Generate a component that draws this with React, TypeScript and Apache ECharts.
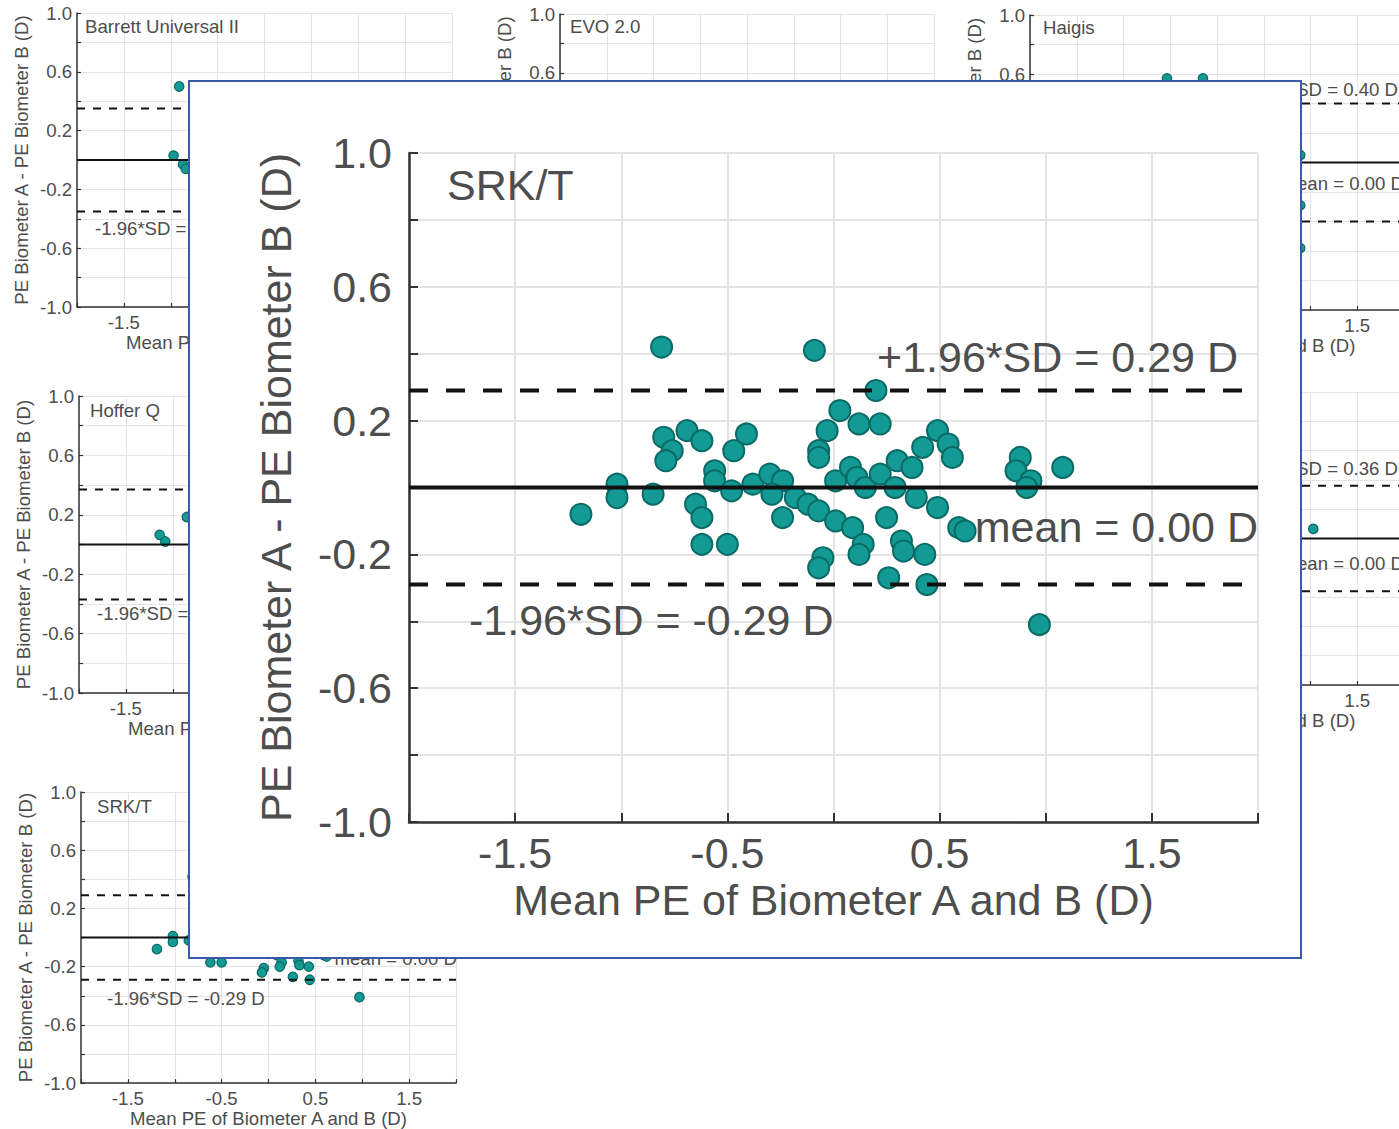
import React, { useEffect, useRef } from 'react';
import * as echarts from 'echarts';

// ---------- data ----------
const X_MIN = -2;
const X_MAX = 2;
const X_STEP = 0.5;
const Y_MIN = -1;
const Y_MAX = 1;
const Y_STEP = 0.2;

const X_NAME = 'Mean PE of Biometer A and B (D)';
const Y_NAME = 'PE Biometer A - PE Biometer B (D)';

const xTickLabels = [-1.5, -0.5, 0.5, 1.5];
const yTickLabels = [-1.0, -0.6, -0.2, 0.2, 0.6, 1.0];

// SRK/T (bottom-left panel and enlarged inset)
const srktMean = [
  -1.19, -1.02, -1.02, -0.85, -0.81, -0.8, -0.76, -0.79, -0.69, -0.62, -0.41, -0.47, -0.56, -0.56,
  -0.65, -0.62, -0.62, -0.5, -0.48, -0.38, -0.09, 0.2, 0.03, 0.12, 0.22, -0.03, -0.07, -0.07,
  -0.3, -0.24, -0.29, -0.18, -0.24, -0.12, -0.07, 0.01, 0.09, 0.14, 0.12, -0.05, -0.07, 0.01,
  0.08, 0.11, 0.15, 0.22, 0.29, 0.3, 0.25, 0.32, 0.33, 0.26, 0.49, 0.54, 0.56, 0.42, 0.37, 0.39,
  0.49, 0.59, 0.62, 0.43, 0.44, 0.88, 0.86, 0.93, 0.91, 1.08, 0.97,
];
const srktDiff = [
  -0.08, 0.01, -0.03, -0.02, 0.42, 0.15, 0.11, 0.08, 0.17, 0.14, 0.16, 0.11, 0.05, 0.02,
  -0.05, -0.09, -0.17, -0.17, -0.01, 0.01, 0.41, 0.29, 0.23, 0.19, 0.19, 0.17, 0.11, 0.09,
  0.04, 0.02, -0.02, -0.03, -0.09, -0.05, -0.07, -0.1, -0.12, -0.17, -0.2, -0.21, -0.24, 0.02,
  0.06, 0.03, 0.0, 0.04, 0.0, 0.08, -0.09, -0.16, -0.19, -0.27, 0.17, 0.13, 0.09, 0.12, 0.06, -0.03,
  -0.06, -0.12, -0.13, -0.2, -0.29, 0.09, 0.05, 0.02, 0.0, 0.06, -0.41,
];

// visible parts of the other panels
const barrettMean = [-0.91, -0.97, -0.87, -0.84];
const barrettDiff = [0.5, 0.03, -0.03, -0.06];
const hofferMean = [-1.14, -1.08, -0.85];
const hofferDiff = [0.065, 0.02, 0.185];
const haigisMean = [-0.535, -0.15, 0.89, 0.89, 0.89];
const haigisDiff = [0.57, 0.57, 0.05, -0.29, -0.58];
const holladayMean = [1.03];
const holladayDiff = [0.065];

const panelTitles = ['Barrett Universal II', 'EVO 2.0', 'Haigis', 'Hoffer Q', '', 'SRK/T'];
const biasValues = [0, null, 0, 0, 0, 0];
const loaValues = [0.35, null, 0.4, 0.37, 0.36, 0.29];

// ---------- styling ----------
const FONT = '"Liberation Sans", Arial, Helvetica, sans-serif';
const TEXT = '#4d4d4d';
const AXIS = '#333333';
const GRIDC = '#e4e4e4';
const DOT = '#139a94';
const DOT_EDGE = '#0a6a65';

type Sty = {
  font: number; tick: number; axisW: number; gridW: number; xLabelMargin: number; yLabelMargin: number;
  xNameGap: number; yNameGap: number; dot: number; dotEdge: number; lineW: number; dash: number[];
};
const small: Sty = { font: 18.6, tick: 4, axisW: 1.5, gridW: 1, xLabelMargin: 6, yLabelMargin: 5, xNameGap: 24, yNameGap: 46, dot: 9.5, dotEdge: 1.2, lineW: 2, dash: [8, 8] };
const big: Sty = { font: 43, tick: 9, axisW: 2.5, gridW: 2, xLabelMargin: 9, yLabelMargin: 17, xNameGap: 36, yNameGap: 112, dot: 21, dotEdge: 2, lineW: 4, dash: [19, 18] };

function makeFmt(shown: number[], scale: number) {
  return (v: number) => {
    const r = Math.round(v * scale);
    return shown.some((s) => Math.round(s * scale) === r) ? (r / scale).toFixed(1) : '';
  };
}

type Panel = {
  rect: { left: number; top: number; width: number; height: number };
  xs: number[]; ys: number[]; bias: number | null; loa: number | null; s: Sty;
  xShow?: number[]; yShow?: number[]; xName?: boolean; yName?: boolean;
};

function buildOption(panels: Panel[], texts: any[]) {
  const grid: any[] = [];
  const xAxis: any[] = [];
  const yAxis: any[] = [];
  const series: any[] = [];
  panels.forEach((p, i) => {
    const s = p.s;
    grid.push({ ...p.rect, containLabel: false });
    const common = {
      type: 'value',
      gridIndex: i,
      axisLine: { show: true, onZero: false, lineStyle: { color: AXIS, width: s.axisW } },
      axisTick: { show: true, inside: true, length: s.tick, lineStyle: { color: AXIS, width: s.axisW * 0.8 } },
      splitLine: { show: true, lineStyle: { color: GRIDC, width: s.gridW } },
      nameLocation: 'middle',
      nameTextStyle: { color: TEXT, fontSize: s.font, fontFamily: FONT },
      silent: true,
    };
    xAxis.push({
      ...common,
      min: X_MIN, max: X_MAX, interval: X_STEP,
      name: p.xName === false ? '' : X_NAME, nameGap: s.xNameGap,
      axisLabel: { formatter: makeFmt(p.xShow ?? xTickLabels, 2), color: TEXT, fontSize: s.font, fontFamily: FONT, margin: s.xLabelMargin },
    });
    yAxis.push({
      ...common,
      min: Y_MIN, max: Y_MAX, interval: Y_STEP,
      name: p.yName === false ? '' : Y_NAME, nameGap: s.yNameGap,
      axisLabel: { formatter: makeFmt(p.yShow ?? yTickLabels, 10), color: TEXT, fontSize: s.font, fontFamily: FONT, margin: s.yLabelMargin },
    });
    series.push({
      type: 'scatter', xAxisIndex: i, yAxisIndex: i,
      data: p.xs.map((x, j) => [x, p.ys[j]]),
      symbolSize: s.dot,
      itemStyle: { color: DOT, borderColor: DOT_EDGE, borderWidth: s.dotEdge, opacity: 1 },
      z: 2, silent: true,
    });
    if (p.bias != null && p.loa != null) {
      const lines = [
        { v: p.bias, type: 'solid' as any },
        { v: p.bias + p.loa, type: s.dash as any },
        { v: p.bias - p.loa, type: s.dash as any },
      ];
      lines.forEach((l) =>
        series.push({
          type: 'line', xAxisIndex: i, yAxisIndex: i,
          data: [[X_MIN, l.v], [X_MAX, l.v]],
          symbol: 'none',
          lineStyle: { color: '#111', width: s.lineW, type: l.type },
          z: 3, silent: true,
        })
      );
    }
  });
  return { animation: false, grid, xAxis, yAxis, series, graphic: texts };
}

function txt(text: string, x: number, y: number, align: string, size: number) {
  return {
    type: 'text', x, y, z: 10, silent: true,
    style: { text, fontSize: size, fontFamily: FONT, fill: TEXT, align, verticalAlign: 'middle' },
  };
}
const up = (v: number) => `+1.96*SD = ${v.toFixed(2)} D`;
const lo = (v: number) => `-1.96*SD = -${v.toFixed(2)} D`;
const mn = (v: number) => `mean = ${v.toFixed(2)} D`;

export default function App() {
  const bgRef = useRef<HTMLDivElement>(null);
  const inRef = useRef<HTMLDivElement>(null);

  useEffect(() => {
    const bg = echarts.init(bgRef.current!, undefined, { renderer: 'svg' });
    const inset = echarts.init(inRef.current!, undefined, { renderer: 'svg' });

    const panels: Panel[] = [
      { rect: { left: 77, top: 13, width: 375, height: 294 }, xs: barrettMean, ys: barrettDiff, bias: biasValues[0], loa: loaValues[0], s: small, xShow: [-1.5] },
      { rect: { left: 560, top: 14, width: 374, height: 294 }, xs: [], ys: [], bias: biasValues[1], loa: loaValues[1], s: small, xShow: [], yShow: [1.0, 0.6], xName: false },
      { rect: { left: 1030, top: 15, width: 374, height: 295 }, xs: haigisMean, ys: haigisDiff, bias: biasValues[2], loa: loaValues[2], s: small, xShow: [1.5], yShow: [1.0, 0.6] },
      { rect: { left: 79, top: 396, width: 375, height: 297 }, xs: hofferMean, ys: hofferDiff, bias: biasValues[3], loa: loaValues[3], s: small, xShow: [-1.5] },
      { rect: { left: 1030, top: 392, width: 374, height: 293 }, xs: holladayMean, ys: holladayDiff, bias: biasValues[4], loa: loaValues[4], s: small, xShow: [1.5], yShow: [], yName: false },
      { rect: { left: 81, top: 792, width: 375, height: 295 }, xs: srktMean, ys: srktDiff, bias: biasValues[5], loa: loaValues[5], s: small },
    ];
    const f = small.font;
    const bgTexts = [
      txt(panelTitles[0], 85, 26, 'left', f),
      txt(lo(loaValues[0]!), 95, 228, 'left', f),
      txt(panelTitles[1], 570, 26, 'left', f),
      txt(panelTitles[2], 1043, 27, 'left', f),
      txt(up(loaValues[2]!), 1398, 89, 'right', f),
      txt(mn(0), 1404, 183, 'right', f),
      txt(panelTitles[3], 90, 410, 'left', f),
      txt(lo(loaValues[3]!), 97, 613, 'left', f),
      txt(up(loaValues[4]!), 1398, 468, 'right', f),
      txt(mn(0), 1404, 563, 'right', f),
      txt(panelTitles[5], 97, 806, 'left', f),
      txt(lo(loaValues[5]!), 107, 998, 'left', f),
      txt(mn(0), 457, 958, 'right', f),
    ];
    bg.setOption(buildOption(panels, bgTexts));

    const F = big.font;
    const insetTexts = [
      txt(panelTitles[5], 257, 103, 'left', F),
      txt(up(loaValues[5]!), 1048, 275, 'right', F),
      txt(mn(0), 1068, 445, 'right', F),
      txt(lo(loaValues[5]!), 279, 538, 'left', F),
    ];
    inset.setOption(
      buildOption(
        [{ rect: { left: 219, top: 71, width: 849, height: 669 }, xs: srktMean, ys: srktDiff, bias: biasValues[5], loa: loaValues[5], s: big }],
        insetTexts
      )
    );

    return () => {
      bg.dispose();
      inset.dispose();
    };
  }, []);

  return (
    <div style={{ position: 'absolute', left: 0, top: 0, width: 1399, height: 1129, overflow: 'hidden', background: '#fff' }}>
      <div ref={bgRef} style={{ position: 'absolute', left: 0, top: 0, width: 1440, height: 1129 }} />
      <div
        style={{
          position: 'absolute', left: 188, top: 80, width: 1114, height: 879, boxSizing: 'border-box',
          border: '2px solid #3a5aa8', background: '#fff', overflow: 'hidden',
        }}
      >
        <div ref={inRef} style={{ position: 'absolute', left: 0, top: 0, width: 1110, height: 875 }} />
      </div>
    </div>
  );
}
